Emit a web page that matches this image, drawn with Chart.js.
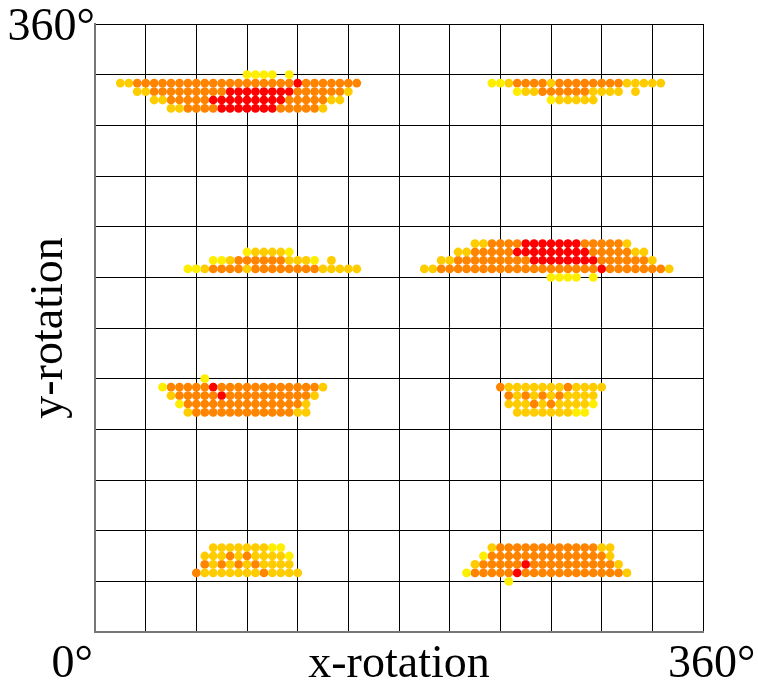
<!DOCTYPE html>
<html>
<head>
<meta charset="utf-8">
<title>rotation map</title>
<script src="https://cdn.jsdelivr.net/npm/chart.js@4/dist/chart.umd.min.js"></script>
<style>
html, body { margin: 0; padding: 0; background: #fff; }
</style>
</head>
<body>
<canvas id="chart" width="758" height="688"></canvas>
<script>
// Each row of dots: y angle, x angle of the first dot, then one level per 5° step
// levels: 1 = yellow, 2 = gold, 3 = orange, 4 = red, '.' = no dot (spaces only group the runs)
const rowY = [
    330, 325, 320, 315, 310,
    325, 320, 315,
    215, 220, 225,
    210, 215, 220, 225, 230,
    150, 145, 140, 135, 130,
    145, 140, 135, 130,
    35, 40, 45, 50,
    30, 35, 40, 45, 50
];
const rowStart = [
    90, 15, 25, 35, 45,
    235, 250, 270,
    55, 70, 90,
    270, 195, 205, 215, 225,
    65, 40, 45, 50, 55,
    240, 245, 245, 250,
    60, 65, 65, 70,
    245, 220, 225, 230, 235
];
const rowLevels = [
    '1111.1',
    '22 3333333333333333333 4 3333333',
    '22 333333333 44444444 333333 2',
    '22 33333 444444444 33333 22',
    '22 3333 4444444 33333 2',

    '11 2 3333 2 33333333 22222',
    '1 22 333333 2222 . 2',
    '1 22222',

    '11 2 3333 2 33333333 22222',
    '11 2 333333 222 1 . 2',
    '1 2222 1',

    '1111.1',
    '22 3333333333333333333 4 3333333 2',
    '22 333333333 44444444 333333 2',
    '22 33333 444444444 33333 22',
    '22 3333 4444444 33333 2',

    '1',
    '1 33333 4 333333333333 2',
    '2 33333 4 3333333333 2',
    '1 33333333333333 2',
    '2 333333333333 22',

    '3 2222222 3 2222',
    '3 2 3 2 3 2 3 2222',
    '222 3 2 3 2222 1',
    '2222222 11',

    '3 2222222 3 2222',
    '3 2 3 2 3 2 3 2222',
    '222 3 2 3 2222 1',
    '2222222 11',

    '1',
    '1 33333 4 333333333333 2',
    '2 33333 4 3333333333 2',
    '1 33333333333333 2',
    '2 333333333333 22'
];
const stepDeg = 5;
const levels = ['1', '2', '3', '4'];
const levelColors = ['#FFEE00', '#FFCC00', '#FF8400', '#FF0000'];
const xTickLabels = ['0°', '360°'];
const yTickLabels = ['0°', '360°'];

// Turn the rows into one point list per level
const buildPoints = (level) => {
    const points = [];
    rowLevels.forEach((row, r) => {
        const codes = row.replace(/ /g, '');
        for (let i = 0; i < codes.length; i++) {
            if (codes[i] === level) {
                points.push({ x: rowStart[r] + i * stepDeg, y: rowY[r] });
            }
        }
    });
    return points;
};

const serif = 'Liberation Serif';

// corner labels 0° / 360°
const cornerLabels = {
    id: 'cornerLabels',
    afterDraw(chart) {
        const { ctx, scales: { x, y } } = chart;
        const left = x.getPixelForValue(0);
        const right = x.getPixelForValue(360);
        const top = y.getPixelForValue(360);
        const bottom = y.getPixelForValue(0);
        ctx.save();
        ctx.fillStyle = '#000';
        ctx.font = '46px "' + serif + '"';
        ctx.textBaseline = 'alphabetic';
        ctx.textAlign = 'right';
        ctx.fillText(yTickLabels[1], left, top + 16);
        ctx.fillText(xTickLabels[0], left - 2, bottom + 45);
        ctx.textAlign = 'left';
        ctx.fillText(xTickLabels[1], right - 35, bottom + 45);
        ctx.restore();
    }
};

const axisOptions = (titleText, titlePadding) => ({
    type: 'linear',
    min: 0,
    max: 360,
    ticks: { stepSize: 30, display: false },
    grid: { color: '#000', lineWidth: 1, drawTicks: false },
    border: { color: '#777', width: 2 },
    title: {
        display: true,
        text: titleText,
        color: '#000',
        font: { family: serif, size: 46, lineHeight: 1 },
        padding: titlePadding
    }
});

new Chart(document.getElementById('chart').getContext('2d'), {
    type: 'scatter',
    data: {
        datasets: levels.map((level, index) => ({
            data: buildPoints(level),
            backgroundColor: levelColors[index],
            borderColor: levelColors[index],
            pointRadius: 4.4,
            pointBorderWidth: 0
        }))
    },
    options: {
        responsive: false,
        animation: false,
        layout: { padding: { left: 0, right: 55, top: 24, bottom: 0 } },
        plugins: { legend: { display: false }, tooltip: { enabled: false } },
        scales: {
            x: axisOptions('x-rotation', { top: 10, bottom: 0 }),
            y: axisOptions('y-rotation', { top: 27, bottom: 22 })
        }
    },
    plugins: [cornerLabels]
});
</script>
</body>
</html>
